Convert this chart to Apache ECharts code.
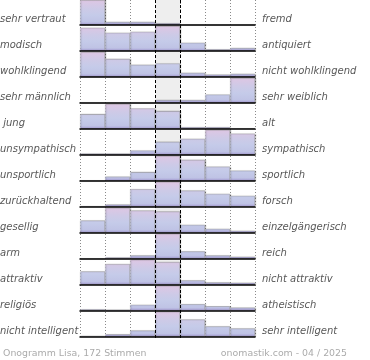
<!DOCTYPE html>
<html><head><meta charset="utf-8">
<script src="https://cdn.jsdelivr.net/npm/echarts@6/dist/echarts.min.js"></script>
<style>html,body{margin:0;padding:0;background:#fff}#c{width:370px;height:360px}</style>
</head><body><div id="c"></div>
<script>
const leftLabels = ['sehr vertraut','modisch','wohlklingend','sehr männlich',' jung','unsympathisch','unsportlich','zurückhaltend','gesellig','arm','attraktiv','religiös','nicht intelligent'];
const rightLabels = ['fremd','antiquiert','nicht wohlklingend','sehr weiblich','alt','sympathisch','sportlich','forsch','einzelgängerisch','reich','nicht attraktiv','atheistisch','sehr intelligent'];
const scaleSteps = ['1','2','3','4','5','6','7'];
const vertrautFremd = [24, 3, 3, 1.7, 0, 0, 0];
const modischAntiquiert = [23.3, 18.3, 19.3, 25, 8.3, 1.7, 3];
const wohlklingend = [24, 17.3, 11.7, 13, 4, 2.3, 3];
const maennlichWeiblich = [0, 0, 0, 3, 3, 8.7, 25.7];
const jungAlt = [14.3, 24.3, 20, 17.3, 1.7, 1.7, 0.5];
const sympathisch = [1.3, 1.3, 4.3, 12.7, 15.7, 24.3, 20.7];
const sportlich = [0, 4.3, 8.7, 25, 21, 14.3, 10.3];
const zurueckhaltendForsch = [0.7, 2.3, 17.7, 25, 16.3, 13, 11];
const geselligEinzelgaenger = [12.3, 25, 22.3, 21.3, 8, 4, 2];
const armReich = [0, 1.3, 3.3, 24.7, 7.3, 3.3, 2];
const attraktiv = [13.3, 20.7, 25, 22.7, 4.3, 2.3, 2];
const religioesAtheistisch = [1.3, 1, 5.7, 24, 6.3, 4.3, 3];
const intelligent = [0.7, 2.3, 6, 24.3, 16.7, 10, 8];
const rows = [vertrautFremd, modischAntiquiert, wohlklingend, maennlichWeiblich, jungAlt, sympathisch, sportlich, zurueckhaltendForsch, geselligEinzelgaenger, armReich, attraktiv, religioesAtheistisch, intelligent];

const chart = echarts.init(document.getElementById('c'), null, {renderer:'canvas'});
const PITCH = 25.97, RH = 25, LEFT = 80, W = 175;
const grids = [], xAxes = [], yAxes = [], series = [], graphics = [];
rows.forEach((vals, i) => {
  const top = PITCH * i;
  grids.push({left: LEFT, top: top, width: W, height: RH});
  xAxes.push({type:'category', gridIndex:i, data: scaleSteps, boundaryGap:true,
    axisLine:{show:true, onZero:false, lineStyle:{color:'#000', width:1.5}}, z:5,
    axisTick:{show:false}, axisLabel:{show:false}, splitLine:{show:false}});
  yAxes.push({type:'value', gridIndex:i, min:0, max: Math.max(...vals), show:false, splitLine:{show:false}});
  series.push({type:'bar', xAxisIndex:i, yAxisIndex:i, data: vals, barWidth:'100%', z:3, silent:true,
    itemStyle:{
      color:{type:'linear', x:0, y:top, x2:0, y2:top+RH, global:true, colorStops:[
        {offset:0, color:'#dec6e3'},{offset:0.35, color:'#cdcae7'},{offset:0.6, color:'#c5cbe9'},
        {offset:0.88, color:'#bfc3e5'},{offset:0.96, color:'#aca6d7'},{offset:1, color:'#8c7ebc'}]},
      borderColor:'rgba(150,150,150,0.55)', borderWidth:0.6,
      shadowColor:'rgba(0,0,0,0.3)', shadowOffsetX:1, shadowOffsetY:0, shadowBlur:1}});
  const yMid = top + RH - 6;
  graphics.push({type:'text', left: 0, top: yMid - 4.5, style:{text: leftLabels[i], font:'italic 10px "DejaVu Sans"', fill:'#585858'}});
  graphics.push({type:'text', left: 262, top: yMid - 4.5, style:{text: rightLabels[i], font:'italic 10px "DejaVu Sans"', fill:'#585858'}});
});
// overlay grid for column lines and neutral band
const oi = rows.length;
grids.push({left: LEFT, top: 0, width: W, height: 338});
xAxes.push({type:'value', gridIndex: oi, min:0, max:7, interval:1, axisLine:{show:false}, axisTick:{show:false}, axisLabel:{show:false},
  splitLine:{show:true, lineStyle:{color:'#8a8a8a', width:1, type:[1,2]}}, z:0});
yAxes.push({type:'value', gridIndex: oi, min:0, max:1, show:false, splitLine:{show:false}});
series.push({type:'line', xAxisIndex: oi, yAxisIndex: oi, data: [], z:-1, silent:true,
  markArea:{silent:true, itemStyle:{color:'#eeeeee'}, data:[[{xAxis:3},{xAxis:4}]]}});
series.push({type:'line', xAxisIndex: oi, yAxisIndex: oi, data: [], z:10, silent:true,
  markLine:{silent:true, symbol:['none','none'], label:{show:false}, lineStyle:{color:'#000', width:1, type:[3,2]}, data:[{xAxis:3},{xAxis:4}], animation:false}});
graphics.push({type:'text', left: 3, top: 349, style:{text:'Onogramm Lisa, 172 Stimmen', font:'9.4px "DejaVu Sans"', fill:'#ababab'}});
graphics.push({type:'text', right: 23, top: 349, style:{text:'onomastik.com - 04 / 2025', font:'9.4px "DejaVu Sans"', fill:'#ababab'}});

chart.setOption({animation:false, grid: grids, xAxis: xAxes, yAxis: yAxes, series: series, graphic: graphics});
</script></body></html>
